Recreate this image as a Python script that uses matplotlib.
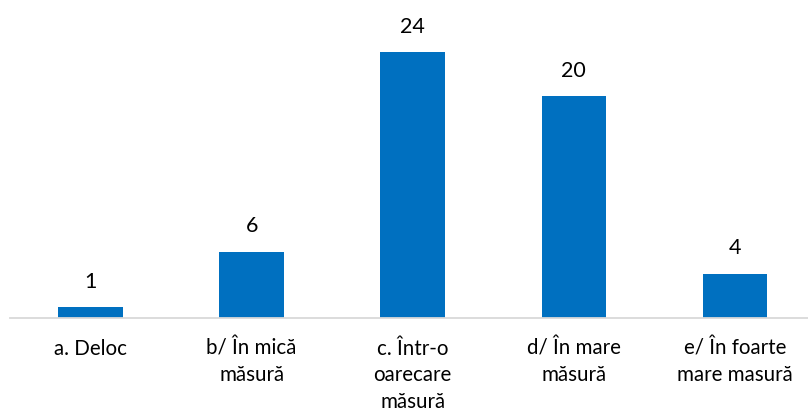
import matplotlib
matplotlib.use("Agg")
import matplotlib.pyplot as plt

categories = ["a. Deloc", "b/ În mică\nmăsură", "c. Într-o\noarecare\nmăsură",
              "d/ În mare\nmăsură", "e/ În foarte\nmare masură"]
values = [1, 6, 24, 20, 4]

plt.rcParams['font.family'] = ['Lato', 'DejaVu Sans']

fig = plt.figure(figsize=(8.08, 4.16), dpi=100)
W, H = 808, 416
left_px, right_px = 10, 808
base_px = 318
ax = fig.add_axes([left_px / W, (H - base_px) / H, (right_px - left_px) / W, base_px / H])

x = list(range(len(categories)))
ax.bar(x, values, width=0.4, color="#0070C0", zorder=2)
ax.set_xlim(-0.5, 4.454)
ax.set_ylim(0, 28.7)

for xi, v in zip(x, values):
    ax.annotate(str(v), (xi, v), xytext=(0, 11), textcoords="offset points",
                ha="center", va="bottom", fontsize=15.5, color="#000000")

ax.set_xticks(x)
ax.set_xticklabels(categories, fontsize=14.8, color="#000000", linespacing=1.4)
ax.tick_params(axis="x", length=0, pad=15)
ax.set_yticks([])
for s in ["top", "right", "left"]:
    ax.spines[s].set_visible(False)
ax.spines["bottom"].set_color("#D9D9D9")
ax.spines["bottom"].set_linewidth(1.3)

fig.savefig("out.png", dpi=100)
